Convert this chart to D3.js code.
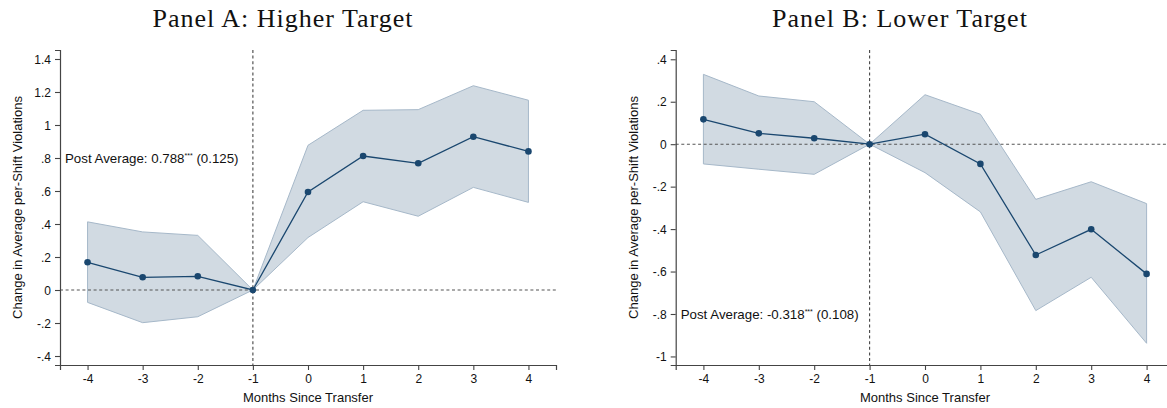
<!DOCTYPE html>
<html>
<head>
<meta charset="utf-8">
<script src="https://cdn.jsdelivr.net/npm/d3@7"></script>
<style>
  html, body { margin: 0; padding: 0; background: #fff; }
  svg { display: block; }
  .tick text { font-family: "Liberation Sans", Arial, sans-serif; font-size: 12px; fill: #111; }
</style>
</head>
<body>
<svg id="chart" width="1167" height="408"></svg>
<script>
// Event-study estimates by month relative to transfer (month -1 omitted as reference)
const months = [-4, -3, -2, -1, 0, 1, 2, 3, 4];

const higherEst = [0.168, 0.077, 0.083, 0, 0.594, 0.812, 0.768, 0.929, 0.840];
const higherLo  = [-0.075, -0.198, -0.162, 0, 0.318, 0.535, 0.447, 0.622, 0.531];
const higherHi  = [0.413, 0.352, 0.331, 0, 0.877, 1.089, 1.093, 1.238, 1.150];

const lowerEst = [0.117, 0.051, 0.028, 0, 0.047, -0.093, -0.522, -0.401, -0.611];
const lowerLo  = [-0.093, -0.118, -0.142, 0, -0.134, -0.319, -0.784, -0.627, -0.938];
const lowerHi  = [0.329, 0.227, 0.200, 0, 0.233, 0.141, -0.260, -0.177, -0.280];

const higherYTicks = [-0.4, -0.2, 0, 0.2, 0.4, 0.6, 0.8, 1, 1.2, 1.4];
const lowerYTicks  = [-1, -0.8, -0.6, -0.4, -0.2, 0, 0.2, 0.4];

const titles = ["Panel A: Higher Target", "Panel B: Lower Target"];
const postNotes = [
  { value: "0.788", stars: "***", se: "(0.125)", at: 0.8 },
  { value: "-0.318", stars: "***", se: "(0.108)", at: -0.8 }
];
const xTitle = "Months Since Transfer";
const yTitle = "Change in Average per-Shift Violations";

const navy = "#1a476f";
const svg = d3.select("#chart");

// Stata-style number labels: plain hyphen minus, no leading zero
const stataFmt = v => {
  if (v === 0) return "0";
  const s = String(+v.toFixed(2));
  return s.replace(/^(-?)0\./, "$1.");
};

function drawPanel(opts) {
  const { left, right, top, bottom, yDomain, yTicks, est, lo, hi, title, note } = opts;
  const g = svg.append("g");

  const x = d3.scaleLinear().domain([-4.5, 4.5]).range([left, right]);
  const y = d3.scaleLinear().domain(yDomain).range([bottom, top]);

  const rows = months.map((m, i) => ({ m, est: est[i], lo: lo[i], hi: hi[i] }));

  // confidence band
  g.append("path")
    .datum(rows)
    .attr("d", d3.area().x(d => x(d.m)).y0(d => y(d.lo)).y1(d => y(d.hi)))
    .attr("fill", "#d1dae2")
    .attr("stroke", "#a6b8c9")
    .attr("stroke-width", 1);

  // reference lines
  g.append("line")
    .attr("x1", left).attr("x2", right)
    .attr("y1", y(0)).attr("y2", y(0))
    .attr("stroke", "#555").attr("stroke-width", 1.1)
    .attr("stroke-dasharray", "3,2.6");
  g.append("line")
    .attr("x1", x(-1)).attr("x2", x(-1))
    .attr("y1", top).attr("y2", bottom)
    .attr("stroke", "#444").attr("stroke-width", 1.1)
    .attr("stroke-dasharray", "3,2.6");

  // point estimates
  g.append("path")
    .datum(rows)
    .attr("d", d3.line().x(d => x(d.m)).y(d => y(d.est)))
    .attr("fill", "none")
    .attr("stroke", navy)
    .attr("stroke-width", 1.3);
  g.selectAll("circle.pt")
    .data(rows)
    .join("circle")
    .attr("class", "pt")
    .attr("cx", d => x(d.m))
    .attr("cy", d => y(d.est))
    .attr("r", 3.3)
    .attr("fill", navy);

  // axes
  const xAxis = d3.axisBottom(x).tickValues(months).tickSize(5).tickPadding(4).tickFormat(d => String(d));
  const gx = g.append("g").attr("transform", `translate(0,${bottom})`).call(xAxis);
  const yAxis = d3.axisLeft(y).tickValues(yTicks).tickSize(5).tickPadding(4).tickFormat(stataFmt);
  const gy = g.append("g").attr("transform", `translate(${left},0)`).call(yAxis);
  [gx, gy].forEach(a => {
    a.select(".domain").attr("stroke", "#444").attr("stroke-width", 1.2);
    a.selectAll(".tick line").attr("stroke", "#444").attr("stroke-width", 1.1);
  });
  gy.selectAll(".tick text").attr("dy", "0.34em");

  // axis titles
  g.append("text")
    .attr("x", (left + right) / 2)
    .attr("y", bottom + 37)
    .attr("text-anchor", "middle")
    .style("font-family", "'Liberation Sans', Arial, sans-serif")
    .style("font-size", "13px")
    .attr("fill", "#111")
    .text(xTitle);
  g.append("text")
    .attr("transform", `translate(${left - 38},${(top + bottom) / 2}) rotate(-90)`)
    .attr("text-anchor", "middle")
    .style("font-family", "'Liberation Sans', Arial, sans-serif")
    .style("font-size", "13px")
    .attr("fill", "#111")
    .text(yTitle);

  // post-period average note
  const ny = y(note.at) + 4.7;
  const t = g.append("text")
    .attr("x", left + 5)
    .attr("y", ny)
    .style("font-family", "'Liberation Sans', Arial, sans-serif")
    .style("font-size", "13.3px")
    .attr("fill", "#111");
  t.append("tspan").text("Post Average: " + note.value);
  t.append("tspan").attr("y", ny - 5).style("font-size", "7px").text(note.stars);
  t.append("tspan").attr("y", ny).text(" " + note.se);

  // panel title
  svg.append("text")
    .attr("x", (left + right) / 2 - 25)
    .attr("y", 27)
    .attr("text-anchor", "middle")
    .style("font-family", "'Liberation Serif', 'Times New Roman', serif")
    .style("font-size", "26px")
    .style("letter-spacing", "1px")
    .attr("fill", "#111")
    .text(title);
}

drawPanel({
  left: 60, right: 556, top: 50, bottom: 365,
  yDomain: [-0.4545, 1.4545], yTicks: higherYTicks,
  est: higherEst, lo: higherLo, hi: higherHi,
  title: titles[0], note: postNotes[0]
});

drawPanel({
  left: 675.7, right: 1174.3, top: 50, bottom: 365,
  yDomain: [-1.0403, 0.4437], yTicks: lowerYTicks,
  est: lowerEst, lo: lowerLo, hi: lowerHi,
  title: titles[1], note: postNotes[1]
});
</script>
</body>
</html>
